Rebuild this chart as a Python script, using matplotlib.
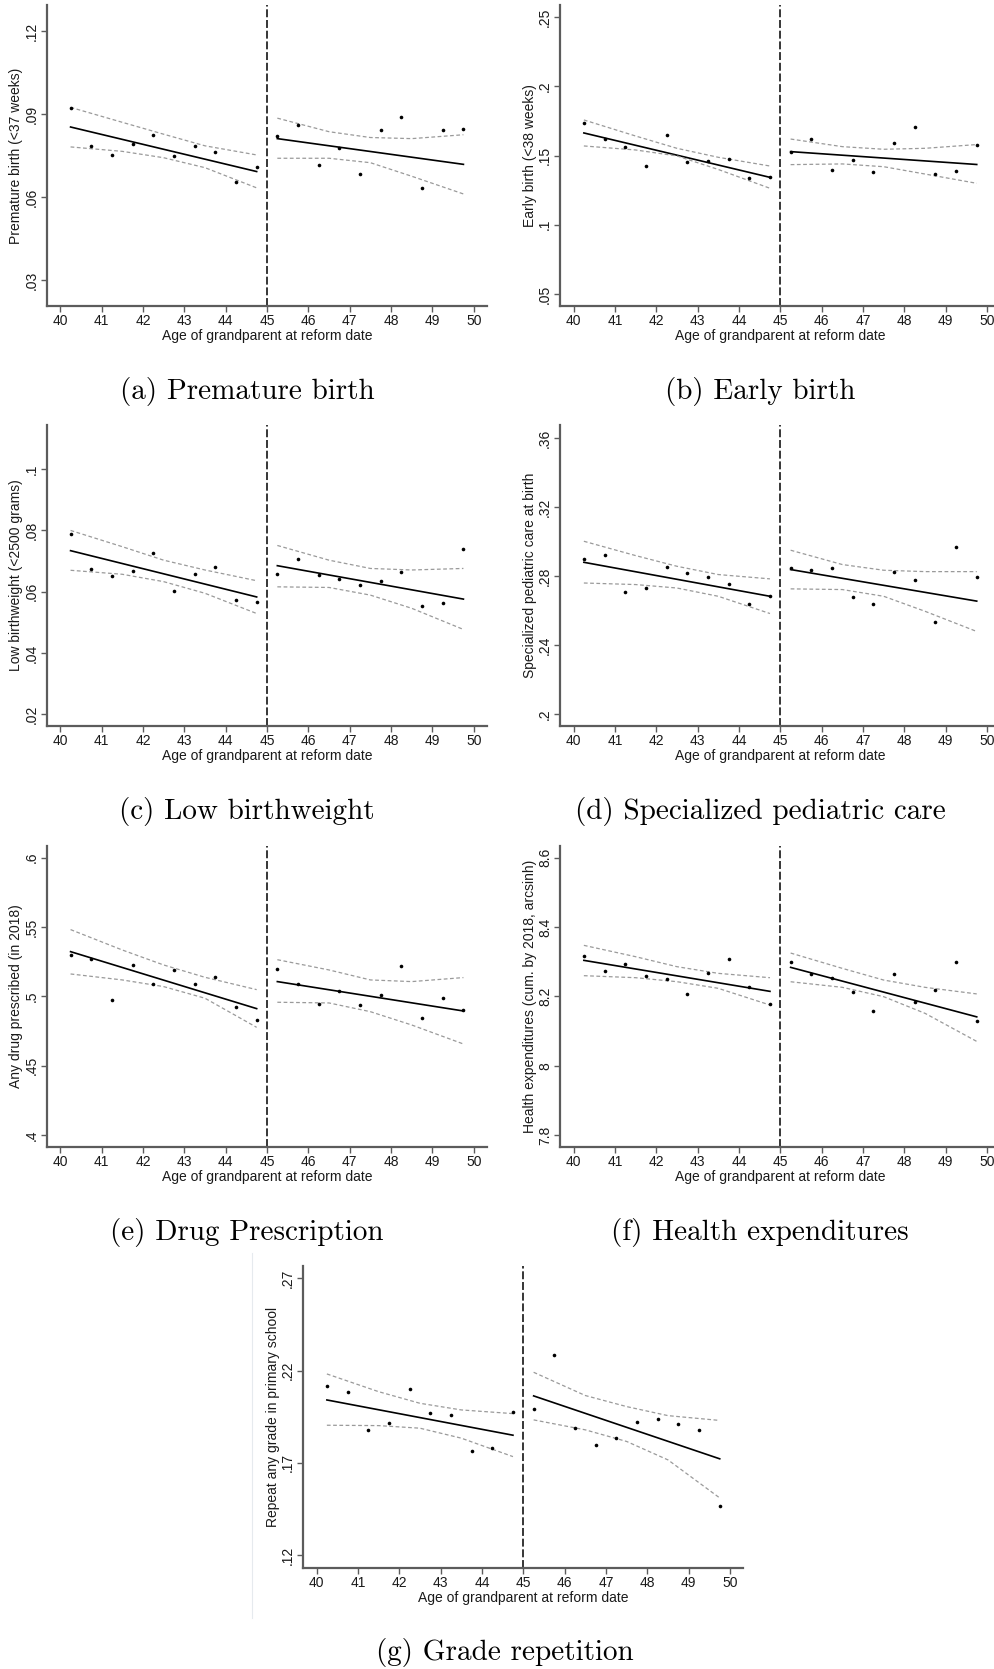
import matplotlib
matplotlib.use("Agg")
import matplotlib.pyplot as plt
from matplotlib.lines import Line2D

# x positions of the binned means and of the CI readings
AGES_LEFT = [40.25, 40.75, 41.25, 41.75, 42.25, 42.75, 43.25, 43.75, 44.25, 44.75]
AGES_RIGHT = [45.25, 45.75, 46.25, 46.75, 47.25, 47.75, 48.25, 48.75, 49.25, 49.75]
CI_X_LEFT = [40.25, 41.5, 42.5, 43.5, 44.75]
CI_X_RIGHT = [45.25, 46.5, 47.5, 48.5, 49.75]
X_TICKS = [40, 41, 42, 43, 44, 45, 46, 47, 48, 49, 50]
X_TITLE = "Age of grandparent at reform date"

# (a) premature birth
PREM_PTS = [0.0923, 0.0785, 0.0753, 0.0791, 0.0823, 0.0749, 0.0784, 0.0763, 0.0655, 0.0709,
            0.0819, 0.0861, 0.0715, 0.0776, 0.0682, 0.0841, 0.0888, 0.0634, 0.0841, 0.0847]
PREM_FIT = [0.0853, 0.0692, 0.0811, 0.0718]
PREM_UP = [0.0924, 0.0870, 0.0827, 0.0785, 0.0752, 0.0885, 0.0836, 0.0815, 0.0811, 0.0825]
PREM_LO = [0.0781, 0.0765, 0.0742, 0.0706, 0.0633, 0.0740, 0.0740, 0.0724, 0.0675, 0.0611]

# (b) early birth
EARLY_PTS = [0.1739, 0.1618, 0.1560, 0.1423, 0.1647, 0.1452, 0.1464, 0.1473, 0.1339, 0.1343,
             0.1529, 0.1618, 0.1396, 0.1466, 0.1379, 0.1589, 0.1705, 0.1365, 0.1390, 0.1580]
EARLY_FIT = [0.1664, 0.1343, 0.1529, 0.1436]
EARLY_UP = [0.1758, 0.1642, 0.1553, 0.1488, 0.1425, 0.1620, 0.1565, 0.1546, 0.1553, 0.1580]
EARLY_LO = [0.1570, 0.1541, 0.1498, 0.1400, 0.1264, 0.1435, 0.1440, 0.1420, 0.1367, 0.1300]

# (c) low birthweight
LBW_PTS = [0.0790, 0.0673, 0.0651, 0.0668, 0.0725, 0.0604, 0.0658, 0.0682, 0.0574, 0.0565,
           0.0658, 0.0708, 0.0654, 0.0643, 0.0621, 0.0636, 0.0665, 0.0555, 0.0562, 0.0741]
LBW_FIT = [0.0734, 0.0583, 0.0685, 0.0576]
LBW_UP = [0.0800, 0.0747, 0.0703, 0.0671, 0.0636, 0.0751, 0.0703, 0.0676, 0.0671, 0.0676]
LBW_LO = [0.0670, 0.0657, 0.0633, 0.0595, 0.0529, 0.0616, 0.0614, 0.0589, 0.0546, 0.0477]

# (d) specialized pediatric care
SPEC_PTS = [0.2900, 0.2922, 0.2711, 0.2732, 0.2856, 0.2819, 0.2798, 0.2756, 0.2640, 0.2686,
            0.2848, 0.2839, 0.2846, 0.2682, 0.2642, 0.2827, 0.2779, 0.2536, 0.2970, 0.2794]
SPEC_FIT = [0.2881, 0.2684, 0.2839, 0.2656]
SPEC_UP = [0.3003, 0.2920, 0.2858, 0.2810, 0.2785, 0.2951, 0.2868, 0.2835, 0.2827, 0.2827]
SPEC_LO = [0.2761, 0.2752, 0.2732, 0.2684, 0.2584, 0.2727, 0.2723, 0.2684, 0.2597, 0.2480]

# (e) drug prescription
DRUG_PTS = [0.5296, 0.5272, 0.4971, 0.5226, 0.5087, 0.5188, 0.5091, 0.5137, 0.4925, 0.4827,
            0.5200, 0.5087, 0.4945, 0.5036, 0.4935, 0.5010, 0.5216, 0.4841, 0.4986, 0.4899]
DRUG_FIT = [0.5322, 0.4911, 0.5106, 0.4894]
DRUG_UP = [0.5481, 0.5334, 0.5226, 0.5137, 0.5048, 0.5264, 0.5190, 0.5118, 0.5106, 0.5135]
DRUG_LO = [0.5161, 0.5118, 0.5070, 0.4986, 0.4776, 0.4957, 0.4952, 0.4889, 0.4793, 0.4656]

# (f) health expenditures
HEXP_PTS = [8.3163, 8.2731, 8.2942, 8.2596, 8.2490, 8.2067, 8.2663, 8.3087, 8.2269, 8.1779,
            8.2981, 8.2635, 8.2529, 8.2125, 8.1587, 8.2654, 8.1846, 8.2173, 8.3000, 8.1300]
HEXP_FIT = [8.3038, 8.2144, 8.2836, 8.1408]
HEXP_UP = [8.3471, 8.3144, 8.2856, 8.2663, 8.2538, 8.3249, 8.2807, 8.2470, 8.2260, 8.2070]
HEXP_LO = [8.2596, 8.2538, 8.2423, 8.2231, 8.1750, 8.2421, 8.2260, 8.1990, 8.1510, 8.0700]

# (g) grade repetition
GRADE_PTS = [0.2117, 0.2084, 0.1877, 0.1918, 0.2103, 0.1969, 0.1960, 0.1763, 0.1783, 0.1974,
             0.1994, 0.2285, 0.1888, 0.1796, 0.1837, 0.1922, 0.1938, 0.1913, 0.1877, 0.1468]
GRADE_FIT = [0.2041, 0.1850, 0.2063, 0.1722]
GRADE_UP = [0.2182, 0.2086, 0.2023, 0.1987, 0.1967, 0.2191, 0.2065, 0.2005, 0.1956, 0.1930]
GRADE_LO = [0.1904, 0.1902, 0.1888, 0.1834, 0.1734, 0.1933, 0.1879, 0.1816, 0.1716, 0.1510]

Y_TITLES = ["Premature birth (<37 weeks)", "Early birth (<38 weeks)",
            "Low birthweight (<2500 grams)", "Specialized pediatric care at birth",
            "Any drug prescribed (in 2018)", "Health expenditures (cum. by 2018, arcsinh)",
            "Repeat any grade in primary school"]
CAPTIONS = ["(a) Premature birth", "(b) Early birth", "(c) Low birthweight",
            "(d) Specialized pediatric care", "(e) Drug Prescription",
            "(f) Health expenditures", "(g) Grade repetition"]
Y_TICKS = [[0.03, 0.06, 0.09, 0.12], [0.05, 0.1, 0.15, 0.2, 0.25],
           [0.02, 0.04, 0.06, 0.08, 0.1], [0.2, 0.24, 0.28, 0.32, 0.36],
           [0.4, 0.45, 0.5, 0.55, 0.6], [7.8, 8.0, 8.2, 8.4, 8.6],
           [0.12, 0.17, 0.22, 0.27]]
Y_TICK_LABELS = [[".03", ".06", ".09", ".12"], [".05", ".1", ".15", ".2", ".25"],
                 [".02", ".04", ".06", ".08", ".1"], [".2", ".24", ".28", ".32", ".36"],
                 [".4", ".45", ".5", ".55", ".6"], ["7.8", "8", "8.2", "8.4", "8.6"],
                 [".12", ".17", ".22", ".27"]]

# layout (pixels) and axis ranges
W, H = 994, 1669
AX_BOX = [(47, 5, 487, 306), (560.3, 5, 1000.3, 306),
          (47, 425, 487, 726), (560.3, 425, 1000.3, 726),
          (47, 846, 487, 1147), (560.3, 846, 1000.3, 1147),
          (303.3, 1266, 743.3, 1567.5)]
Y_LIMS = [(0.0206, 0.1294), (0.0413, 0.2589), (0.0162, 0.1144), (0.1932, 0.3677),
          (0.3913, 0.6084), (7.7654, 8.6337), (0.1133, 0.2767)]
CAP_POS = [(247, 391), (760, 391), (247, 811), (760, 811), (247, 1232), (760, 1232),
           (505, 1652)]

SANS = ["Liberation Sans Narrow", "Liberation Sans", "DejaVu Sans"]
AXCOL = "#5c5c5c"


def draw(ax, pts, fit, up, lo, yticks, ylabels, ylim, ytitle):
    ax.plot(AGES_LEFT, pts[:10], "o", color="black", ms=2.6, mec="none", zorder=4)
    ax.plot(AGES_RIGHT, pts[10:], "o", color="black", ms=2.6, mec="none", zorder=4)
    ax.plot([AGES_LEFT[0], AGES_LEFT[-1]], fit[:2], color="black", lw=1.2)
    ax.plot([AGES_RIGHT[0], AGES_RIGHT[-1]], fit[2:], color="black", lw=1.2)
    for xs, u, l in [(CI_X_LEFT, up[:5], lo[:5]), (CI_X_RIGHT, up[5:], lo[5:])]:
        ax.plot(xs, u, color="#9a9a9a", lw=0.9, dashes=(3, 2))
        ax.plot(xs, l, color="#9a9a9a", lw=0.9, dashes=(3, 2))
    ax.axvline(45, color="black", lw=1.1, dashes=(5.2, 1.8), zorder=1)

    ax.set_xlim(39.68, 50.32)
    ax.set_ylim(*ylim)
    ax.set_xticks(X_TICKS)
    ax.set_xticklabels([str(t) for t in X_TICKS], family=SANS, fontsize=10)
    ax.set_yticks(yticks)
    ax.set_yticklabels(ylabels, family=SANS, fontsize=10, rotation=90, va="center")
    ax.tick_params(colors=AXCOL, labelcolor="#1a1a1a", length=4.5, width=1.0, pad=1.5)
    for s in ["top", "right"]:
        ax.spines[s].set_visible(False)
    for s in ["left", "bottom"]:
        ax.spines[s].set_color(AXCOL)
        ax.spines[s].set_linewidth(1.6)
    ax.set_xlabel(X_TITLE, family=SANS, fontsize=10, color="#1a1a1a")
    ax.xaxis.set_label_coords(0.5, -0.078)
    ax.set_ylabel(ytitle, family=SANS, fontsize=10, color="#1a1a1a")
    ax.yaxis.set_label_coords(-0.054, 0.5)


fig = plt.figure(figsize=(W / 100, H / 100), dpi=100)
panels = [(PREM_PTS, PREM_FIT, PREM_UP, PREM_LO), (EARLY_PTS, EARLY_FIT, EARLY_UP, EARLY_LO),
          (LBW_PTS, LBW_FIT, LBW_UP, LBW_LO), (SPEC_PTS, SPEC_FIT, SPEC_UP, SPEC_LO),
          (DRUG_PTS, DRUG_FIT, DRUG_UP, DRUG_LO), (HEXP_PTS, HEXP_FIT, HEXP_UP, HEXP_LO),
          (GRADE_PTS, GRADE_FIT, GRADE_UP, GRADE_LO)]
for i, (pts, fit, up, lo) in enumerate(panels):
    l, t, r, b = AX_BOX[i]
    ax = fig.add_axes([l / W, 1 - b / H, (r - l) / W, (b - t) / H])
    draw(ax, pts, fit, up, lo, Y_TICKS[i], Y_TICK_LABELS[i], Y_LIMS[i], Y_TITLES[i])
    cx, cy = CAP_POS[i]
    fig.text(cx / W, 1 - cy / H, CAPTIONS[i], ha="center", va="center",
             family="cmr10", fontsize=21)

# faint frame edge left of panel (g)
fig.add_artist(Line2D([252 / W, 252 / W], [1 - 1253 / H, 1 - 1618 / H],
                      color="#e6eaee", lw=0.8))

fig.savefig("out.png", dpi=100, facecolor="white")
